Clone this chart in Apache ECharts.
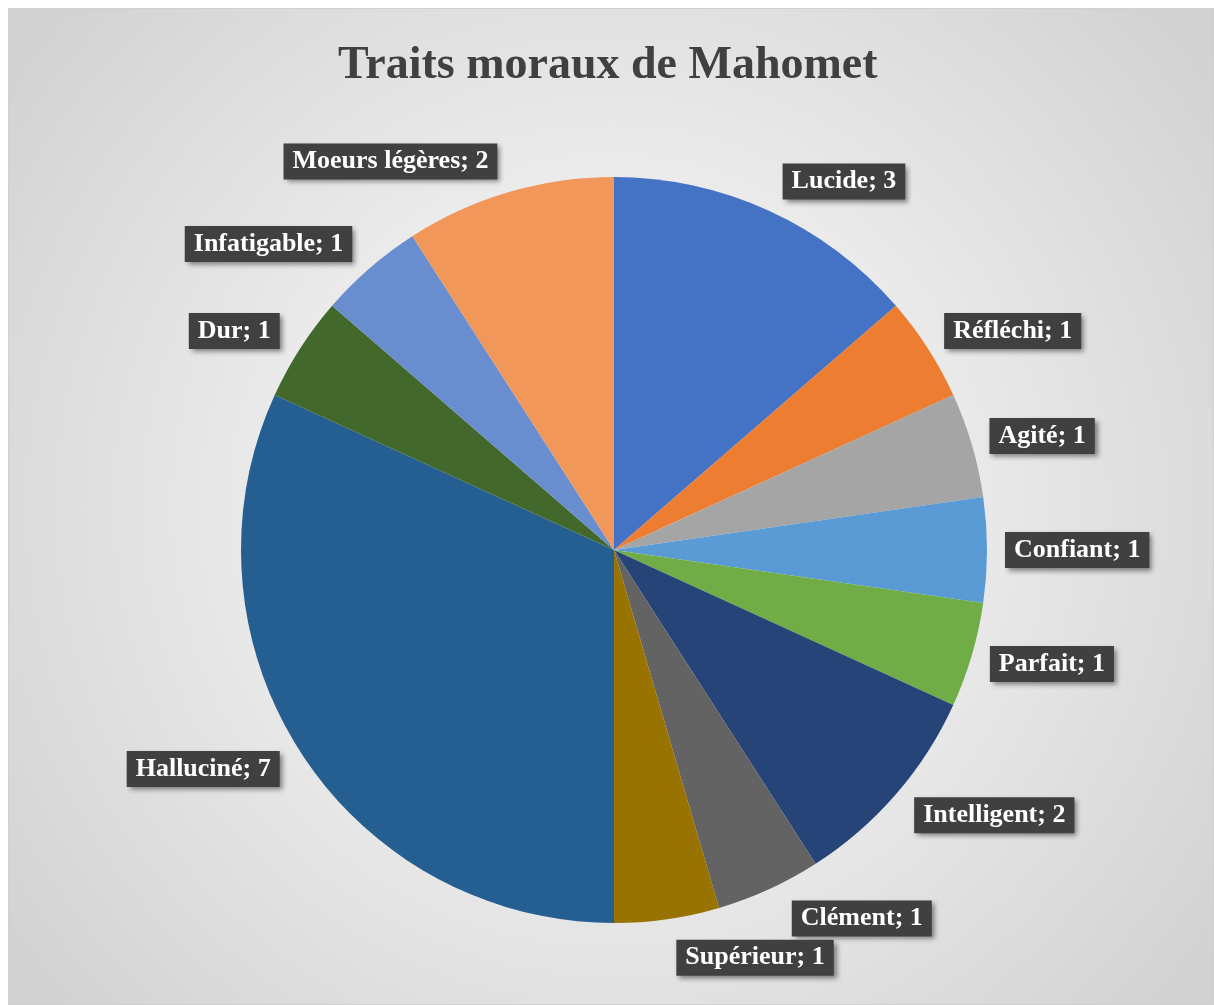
<!DOCTYPE html>
<html>
<head>
<meta charset="utf-8">
<script src="https://cdn.jsdelivr.net/npm/echarts@6/dist/echarts.min.js"></script>
<style>
  html, body { margin: 0; padding: 0; background: #ffffff; }
  #chart { position: absolute; left: 8px; top: 8px; width: 1206px; height: 997px; border: 1px solid #d0d0d0; box-sizing: border-box; }
</style>
</head>
<body>
<div id="chart"></div>
<script>
// données du graphique
var categories = ['Lucide', 'Réfléchi', 'Agité', 'Confiant', 'Parfait', 'Intelligent',
  'Clément', 'Supérieur', 'Halluciné', 'Dur', 'Infatigable', 'Moeurs légères'];
var values = [3, 1, 1, 1, 1, 2, 1, 1, 7, 1, 1, 2];
var colors = ['#4472C4', '#ED7D31', '#A5A5A5', '#5B9BD5', '#70AD47', '#264478',
  '#636363', '#997300', '#255E91', '#43682B', '#698ED0', '#F1975A'];

var myChart = echarts.init(document.getElementById('chart'));

var pieData = [];
var total = 0;
for (var i = 0; i < categories.length; i++) {
  pieData.push({ name: categories[i], value: values[i] });
  total += values[i];
}

// angle médian de chaque part (depuis le haut, sens horaire)
var midAngles = [];
var acc = 0;
for (var j = 0; j < values.length; j++) {
  midAngles.push((acc + values[j] / 2) / total * 2 * Math.PI);
  acc += values[j];
}

var option = {
  backgroundColor: {
    type: 'radial', x: 0.5, y: 0.5, r: 0.75,
    colorStops: [
      { offset: 0, color: '#ffffff' },
      { offset: 1, color: '#d2d2d2' }
    ]
  },
  color: colors,
  title: {
    text: 'Traits moraux de Mahomet',
    left: 324,
    top: 29,
    textStyle: {
      fontFamily: 'Liberation Serif',
      fontWeight: 'bold',
      fontSize: 46,
      color: '#404040'
    }
  },
  series: [{
    type: 'pie',
    center: [605, 541],
    radius: 373,
    startAngle: 90,
    clockwise: true,
    avoidLabelOverlap: true,
    data: pieData,
    label: {
      show: true,
      position: 'outside',
      formatter: '{b}; {c}',
      fontFamily: 'Liberation Serif',
      fontWeight: 'bold',
      fontSize: 26,
      color: '#ffffff',
      backgroundColor: '#404040',
      padding: [5, 9, 5, 9],
      shadowColor: 'rgba(0,0,0,0.45)',
      shadowBlur: 5,
      shadowOffsetX: 3,
      shadowOffsetY: 3
    },
    labelLine: {
      show: false,
      length: 16,
      length2: 2
    },
    // étiquettes posées comme dans Excel : coin contre le bord du disque
    labelLayout: function (params) {
      var a = midAngles[params.dataIndex];
      return { dy: -Math.cos(a) * 16 };
    },
    emphasis: { disabled: true }
  }]
};

myChart.setOption(option);
</script>
</body>
</html>
